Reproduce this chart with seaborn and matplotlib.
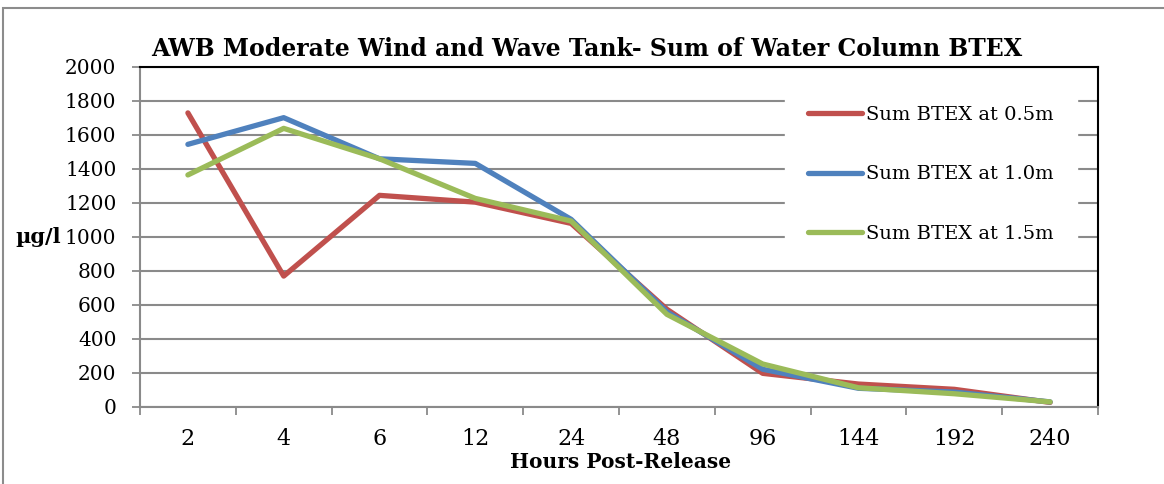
import seaborn as sns
import matplotlib.pyplot as plt
import matplotlib.patches as mpatches
import pandas as pd

sns.set_theme(style="white")
plt.rcParams['font.family'] = ['DejaVu Serif']
plt.rcParams['text.color'] = 'black'
plt.rcParams['xtick.labelcolor'] = 'black'
plt.rcParams['ytick.labelcolor'] = 'black'
plt.rcParams['axes.labelcolor'] = 'black'

hours = ['2', '4', '6', '12', '24', '48', '96', '144', '192', '240']
btex_05 = [1730, 770, 1245, 1205, 1080, 575, 198, 135, 104, 27]
btex_10 = [1545, 1702, 1460, 1433, 1104, 560, 222, 110, 88, 30]
btex_15 = [1365, 1639, 1460, 1227, 1094, 545, 253, 113, 78, 30]
series_names = ['Sum BTEX at 0.5m', 'Sum BTEX at 1.0m', 'Sum BTEX at 1.5m']
colors = ['#C0504D', '#4F81BD', '#9BBB59']

df = pd.concat([
    pd.DataFrame({'hours': hours, 'value': vals, 'series': name})
    for name, vals in zip(series_names, [btex_05, btex_10, btex_15])
])

fig = plt.figure(figsize=(11.64, 4.84), dpi=100)
ax = fig.add_axes([140 / 1164, 77 / 484, 958 / 1164, 340 / 484])

# chart-area border (cropped on right/bottom)
fig.patches.append(mpatches.Rectangle((3 / 1164, -0.2), 1.2, 1 - 8 / 484 + 0.2,
                                      transform=fig.transFigure, fill=False,
                                      edgecolor='#8c8c8c', linewidth=1.5))

sns.lineplot(data=df, x='hours', y='value', hue='series', palette=colors,
             sort=False, linewidth=3.8, ax=ax, zorder=3)

ax.set_ylim(0, 2000)
ax.set_yticks(range(0, 2001, 200))
ax.set_xlim(-0.5, len(hours) - 0.5)
ax.set_xticks(range(len(hours)))
ax.set_xticklabels(hours)
ax.set_xticks([i - 0.5 for i in range(len(hours) + 1)], minor=True)
ax.grid(axis='y', color='#8a8a8a', linewidth=1.5, zorder=0)
ax.set_axisbelow(True)

ax.tick_params(axis='x', which='major', length=0, pad=15, labelsize=16)
ax.tick_params(axis='x', which='minor', length=6, width=1.3, color='#8a8a8a', bottom=True)
ax.tick_params(axis='y', length=6, width=1.3, color='#8a8a8a', left=True, pad=11, labelsize=14.5)

for s in ['left', 'bottom']:
    ax.spines[s].set_color('#8a8a8a')
    ax.spines[s].set_linewidth(1.5)
for s in ['top', 'right']:
    ax.spines[s].set_color('black')
    ax.spines[s].set_linewidth(1.5)

ax.set_title('AWB Moderate Wind and Wave Tank- Sum of Water Column BTEX',
             fontsize=17, fontweight='bold', x=0.4666, pad=8)
ax.set_xlabel('Hours Post-Release', fontsize=14.5, fontweight='bold')
ax.xaxis.set_label_coords(0.502, -0.133)
ax.set_ylabel('µg/l', fontsize=15, fontweight='bold', rotation=0, ha='center', va='center')
ax.yaxis.set_label_coords(-0.106, 0.5)

leg = ax.legend(loc='upper left', bbox_to_anchor=(0.673, 0.955), frameon=True,
                fontsize=14, labelspacing=2.15, handlelength=2.75, handletextpad=0.25,
                borderpad=1.2, borderaxespad=0)
leg.get_frame().set_edgecolor('white')
leg.get_frame().set_facecolor('white')
leg.get_frame().set_alpha(1)
for line in leg.get_lines():
    line.set_linewidth(3.8)

plt.savefig('out.png', dpi=100)
